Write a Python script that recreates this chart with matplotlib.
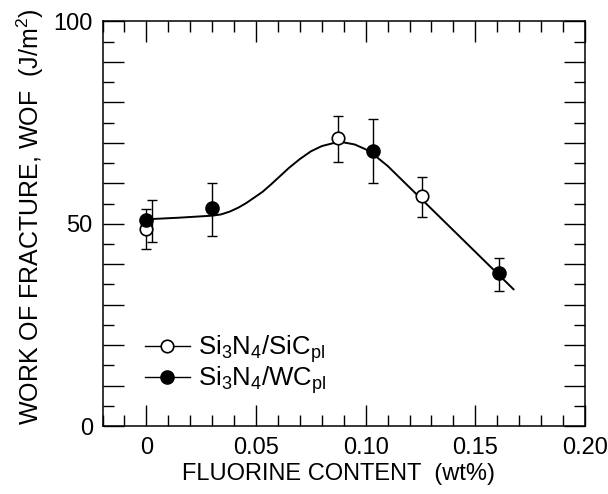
import matplotlib
matplotlib.use("Agg")
import matplotlib.pyplot as plt
from matplotlib.ticker import MultipleLocator, FixedLocator
from matplotlib.lines import Line2D

plt.rcParams['font.family'] = ['Liberation Sans', 'DejaVu Sans']
plt.rcParams['mathtext.default'] = 'regular'

# ---- data ----
sic_x = [0.0, 0.0876, 0.1257]
sic_y = [48.8, 71.1, 56.9]
sic_lo = [43.7, 65.3, 51.7]
sic_hi = [53.6, 76.6, 61.6]
sic_err_x = [0.0, 0.0876, 0.1257]

wc_x = [0.0, 0.0298, 0.1035, 0.1606]
wc_y = [50.9, 53.8, 68.0, 37.8]
wc_lo = [45.6, 47.0, 60.0, 33.4]
wc_hi = [55.9, 60.0, 75.8, 41.6]
wc_err_x = [0.0027, 0.0298, 0.1035, 0.1606]

curve_x = [0.0, 0.015, 0.030, 0.034, 0.038, 0.042, 0.0455, 0.049, 0.053, 0.057,
           0.0606, 0.065, 0.070, 0.075, 0.080, 0.085, 0.090, 0.095, 0.100, 0.105,
           0.110, 0.1674]
curve_y = [51.1, 51.5, 52.0, 52.3, 53.0, 54.0, 55.1, 56.4, 57.9, 59.8,
           61.6, 63.8, 66.0, 67.9, 69.2, 69.9, 70.1, 69.6, 68.4, 66.5,
           64.3, 33.8]

x_ticks = [0.0, 0.05, 0.10, 0.15, 0.20]
x_ticklabels = ['0', '0.05', '0.10', '0.15', '0.20']
y_ticks = [0, 10, 20, 30, 40, 50, 60, 70, 80, 90, 100]
y_ticklabels = ['0', '', '', '', '', '50', '', '', '', '', '100']

legend_labels = [r'Si$_3$N$_4$/SiC$_{pl}$', r'Si$_3$N$_4$/WC$_{pl}$']
x_label = 'FLUORINE CONTENT  (wt%)'
y_label = r'WORK OF FRACTURE, WOF  (J/m$^2$)'

# ---- figure ----
fig = plt.figure(figsize=(6.08, 4.94), dpi=100)
ax = fig.add_axes([102.5 / 608, 68 / 494, 482.5 / 608, 404.5 / 494])

ax.plot(curve_x, curve_y, color='black', lw=1.4, zorder=2)

sic_yerr = [[y - lo for y, lo in zip(sic_y, sic_lo)], [hi - y for y, hi in zip(sic_y, sic_hi)]]
wc_yerr = [[y - lo for y, lo in zip(wc_y, wc_lo)], [hi - y for y, hi in zip(wc_y, wc_hi)]]
ax.errorbar(sic_err_x, sic_y, yerr=sic_yerr, fmt='none', ecolor='black',
            elinewidth=1.0, capsize=3.6, capthick=1.0, zorder=3)
ax.errorbar(wc_err_x, wc_y, yerr=wc_yerr, fmt='none', ecolor='black',
            elinewidth=1.0, capsize=3.6, capthick=1.0, zorder=3)

ax.plot(sic_x, sic_y, 'o', ms=9, mfc='white', mec='black', mew=1.2, ls='none', zorder=4)
ax.plot(wc_x, wc_y, 'o', ms=9.5, mfc='black', mec='black', ls='none', zorder=5)

ax.set_xlim(-0.02, 0.2)
ax.set_ylim(0, 100)

ax.xaxis.set_major_locator(FixedLocator(x_ticks))
ax.set_xticklabels(x_ticklabels)
ax.xaxis.set_minor_locator(MultipleLocator(0.01))
ax.yaxis.set_major_locator(FixedLocator(y_ticks))
ax.set_yticklabels(y_ticklabels)
ax.yaxis.set_minor_locator(MultipleLocator(5))

ax.tick_params(which='both', direction='in', top=True, right=True, width=1.0,
               labelsize=17, color='black')
ax.tick_params(which='major', length=15)
ax.tick_params(which='minor', length=8)
ax.tick_params(axis='x', which='major', pad=8)
ax.tick_params(axis='y', which='major', pad=7)
for s in ax.spines.values():
    s.set_linewidth(1.1)

fig.text(339 / 608, 14 / 494, x_label, ha='center', va='baseline', fontsize=17)
fig.text(30 / 608, (494 - 217) / 494, y_label, ha='center', va='center',
         rotation=90, fontsize=18)

handles = [
    Line2D([], [], color='black', lw=1.0, marker='o', ms=9, mfc='white', mec='black', mew=1.2),
    Line2D([], [], color='black', lw=1.0, marker='o', ms=9.5, mfc='black', mec='black'),
]
ax.legend(handles, legend_labels, loc='center left', bbox_to_anchor=(0.088, 0.1515),
          frameon=False, fontsize=18.5, handlelength=1.75, handletextpad=0.32,
          labelspacing=0.0, borderpad=0, borderaxespad=0)

fig.savefig('out.png', dpi=100)
